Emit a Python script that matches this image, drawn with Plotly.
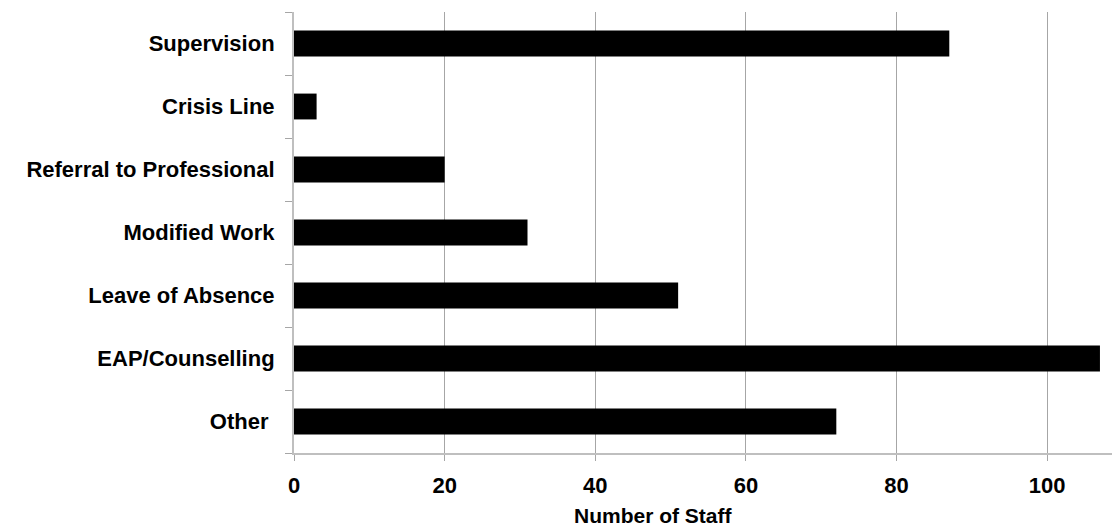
import plotly.graph_objects as go

categories = ["Supervision", "Crisis Line", "Referral to Professional", "Modified Work",
              "Leave of Absence", "EAP/Counselling", "Other "]
staff_counts = [87, 3, 20, 31, 51, 107, 72]
x_ticks = [0, 20, 40, 60, 80, 100]
x_title = "Number of Staff"

font_family = "Liberation Sans, Arial, sans-serif"

fig = go.Figure(
    go.Bar(
        y=categories,
        x=staff_counts,
        orientation="h",
        marker=dict(color="black", line=dict(width=0)),
        width=0.41,
    )
)

fig.update_layout(
    width=1113,
    height=529,
    margin=dict(l=294, r=1, t=12, b=76),
    paper_bgcolor="white",
    plot_bgcolor="white",
    showlegend=False,
    font=dict(family=font_family, color="black"),
)

fig.update_xaxes(
    range=[0, 108.6],
    tickvals=x_ticks,
    ticks="outside",
    ticklen=6,
    tickcolor="#a6a6a6",
    showgrid=True,
    gridcolor="#a6a6a6",
    gridwidth=1,
    showline=True,
    linecolor="#bfbfbf",
    linewidth=2,
    zeroline=False,
    tickfont=dict(size=22, family=font_family, weight="bold"),
    ticklabelstandoff=6,
)

fig.update_yaxes(
    categoryorder="array",
    categoryarray=categories[::-1],
    tickson="boundaries",
    ticks="outside",
    ticklen=7,
    tickcolor="#a6a6a6",
    showgrid=False,
    showline=True,
    linecolor="#bfbfbf",
    linewidth=2,
    tickfont=dict(size=22, family=font_family, weight="bold"),
    ticklabelstandoff=13,
)

# axis title placed as an annotation beneath the tick labels
fig.add_annotation(
    text=f"<b>{x_title}</b>",
    xref="paper", yref="paper",
    x=0.44, y=-0.172,
    xanchor="center", yanchor="bottom",
    showarrow=False,
    font=dict(size=21, family=font_family, color="black"),
)

fig.write_html("out.html")
